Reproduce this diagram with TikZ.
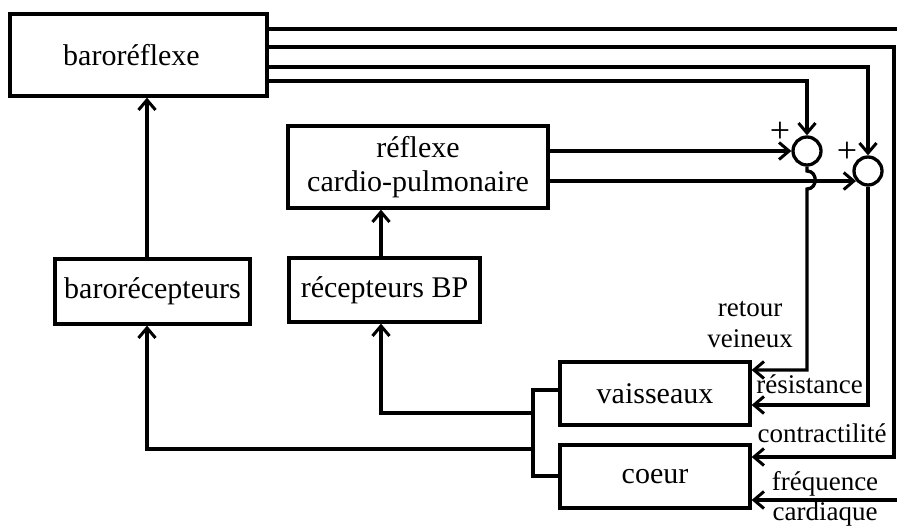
\documentclass[tikz,border=0pt]{standalone}
\usepackage{fontspec}
\setmainfont{Liberation Serif}
\usetikzlibrary{arrows.meta}
\begin{document}
\begin{tikzpicture}[x=1pt,y=-1pt,line width=3.3pt,
  box/.style={draw,rectangle,inner sep=0pt,font=\fontsize{30}{30}\selectfont},
  sum/.style={draw,circle,minimum size=28pt,inner sep=0pt},
  lbl/.style={anchor=base,inner sep=0pt,font=\fontsize{27}{29}\selectfont},
  plus/.style={inner sep=0pt,font=\fontsize{36}{36}\selectfont},
  arr/.style={-{Straight Barb[length=10pt,width=17pt,line width=3pt]}}]
\useasboundingbox (0,0) rectangle (897,529);
% boxes
\node[box,minimum width=257pt,minimum height=82pt] (brf) at (138.5,55) {\hspace*{-14pt}baroréflexe};
\node[box,minimum width=260pt,minimum height=82pt,align=center,font=\fontsize{30}{34}\selectfont] (rcp) at (418,167) {réflexe\\cardio-pulmonaire};
\node[box,minimum width=195pt,minimum height=65pt] (brc) at (152.5,291.5) {barorécepteurs};
\node[box,minimum width=191pt,minimum height=64pt] (rbp) at (384.5,290) {récepteurs BP};
\node[box,minimum width=190pt,minimum height=63pt] (vai) at (655,393.5) {vaisseaux};
\node[box,minimum width=190pt,minimum height=63pt] (coe) at (655,476.5) {coeur};
% summing junctions
\node[sum] (s1) at (807,151) {};
\node[sum] (s2) at (868,171) {};
\node[plus] (p1) at (780,132) {+};
\node[plus] (p2) at (847,152) {+};
% helper coordinates
\coordinate (edgeA) at (897,29);
\coordinate (edgeB) at (897,500);
\coordinate (j) at (533,390);
% up arrows
\draw[arr] ([xshift=-5.5pt]brc.north) -- ([xshift=-5.5pt]brc.north |- brf.south);
\draw[arr] ([xshift=-3.5pt]rbp.north) -- ([xshift=-3.5pt]rbp.north |- rcp.south);
% lines from baroréflexe
\draw (brf.east |- edgeA) -- (edgeA);
\draw[arr] (brf.east |- 0,47) -- (894,47) -- (894,457) -- (coe.east |- 0,457);
\draw[arr] (brf.east |- 0,67) -- (s2.north |- 0,67) -- (s2.north);
\draw[arr] (brf.east |- 0,81) -- (s1.north |- 0,81) -- (s1.north);
% lines from réflexe cardio-pulmonaire
\draw[arr] (rcp.east |- s1.west) -- (s1.west);
\draw[arr] (rcp.east |- s2.220) -- (s2.220);
% outputs of summing junctions
\draw[arr] (s1.south) -- (807,171) .. controls (818,171) and (818,189) .. (807,189) -- (807,370) -- (vai.east |- 0,370);
\draw[arr] (s2.south) -- (868,405) -- (vai.east |- 0,405);
\draw[arr] (edgeB) -- (coe.east |- edgeB);
% outputs of vaisseaux and coeur
\draw (vai.west |- j) -- (j) -- (533,476) -- (coe.west |- 0,476);
\draw[arr] (533,413) -- ([xshift=-3.5pt]rbp.south |- 0,413) -- ([xshift=-3.5pt]rbp.south);
\draw[arr] (533,449) -- ([xshift=-5.5pt]brc.south |- 0,449) -- ([xshift=-5.5pt]brc.south);
% labels
\node[lbl] (l1) at (750,317) {retour};
\node[lbl] (l2) at (750,348) {veineux};
\node[lbl] (l3) at (809.5,393) {résistance};
\node[lbl] (l4) at (822,442) {contractilité};
\node[lbl] (l5) at (825,490) {fréquence};
\node[lbl] (l6) at (825,520) {cardiaque};
\end{tikzpicture}
\end{document}
